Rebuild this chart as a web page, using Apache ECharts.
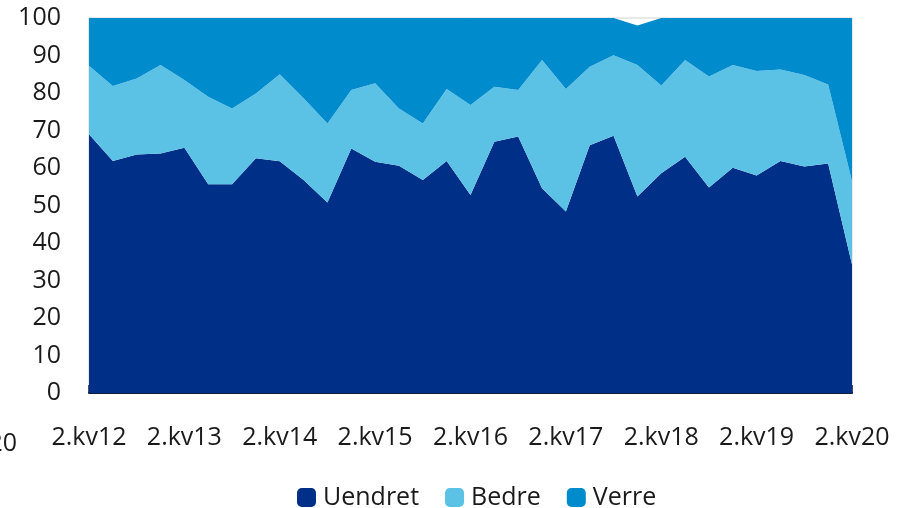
<!DOCTYPE html>
<html>
<head>
<meta charset="utf-8">
<script src="https://cdn.jsdelivr.net/npm/echarts@6/dist/echarts.min.js"></script>
<style>html,body{margin:0;padding:0;background:#fff}#c{width:899px;height:508px}</style>
</head>
<body>
<div id="c"></div>
<script>
// Quarterly categories 2.kv12 ... 2.kv20
const categories = ["2.kv12","3.kv12","4.kv12","1.kv13","2.kv13","3.kv13","4.kv13","1.kv14","2.kv14","3.kv14","4.kv14","1.kv15","2.kv15","3.kv15","4.kv15","1.kv16","2.kv16","3.kv16","4.kv16","1.kv17","2.kv17","3.kv17","4.kv17","1.kv18","2.kv18","3.kv18","4.kv18","1.kv19","2.kv19","3.kv19","4.kv19","1.kv20","2.kv20"];
const uendret = [69.0,61.9,63.6,63.9,65.4,55.7,55.7,62.6,61.8,56.8,50.8,65.2,61.7,60.6,56.8,61.9,52.8,67.0,68.4,54.6,48.4,66.1,68.6,52.4,58.6,63.0,54.8,60.1,58.0,61.9,60.4,61.2,34.3];
const bedre   = [18.3,20.0,20.3,23.6,18.1,23.3,20.2,17.3,23.2,21.8,21.1,15.6,20.9,15.3,15.1,19.2,24.0,14.7,12.4,34.2,32.7,20.9,21.5,35.1,23.4,25.8,29.6,27.4,27.9,24.4,24.4,21.1,22.2];
const verre   = [12.7,18.1,16.1,12.5,16.5,21.0,24.1,20.1,15.0,21.4,28.1,19.2,17.4,24.1,28.1,18.9,23.2,18.3,19.2,11.2,18.9,13.0,9.9,10.5,18.0,11.2,15.6,12.5,14.1,13.7,15.2,17.7,43.5];
const yTicks = {min:0, max:100, interval:10};

const FONT = "'Open Sans', 'Noto Sans', sans-serif";
const TXT = '#1a1a1a';
const chart = echarts.init(document.getElementById('c'), null, {renderer:'canvas'});
function areaSeries(name, data, color){
  return {name, type:'line', stack:'total', data, symbol:'none', showSymbol:false,
    lineStyle:{width:0}, areaStyle:{color, opacity:1}, itemStyle:{color}, emphasis:{disabled:true}};
}
chart.setOption({
  animation:false,
  grid:{left:89, right:47, top:18, bottom:115, show:true, borderColor:'#d4d4d4', borderWidth:1, backgroundColor:'transparent'},
  legend:{top:480, left:292, itemWidth:19, itemHeight:19, itemGap:26,
    textStyle:{fontFamily:FONT, fontSize:25, color:TXT, padding:[0,0,0,2]},
    icon:'roundRect',
    data:['Uendret','Bedre','Verre']},
  xAxis:{type:'category', data:categories, boundaryGap:false,
    axisLine:{show:true, lineStyle:{color:'#0d1b3a', width:2}},
    axisTick:{show:true, inside:true, length:8, interval:0, lineStyle:{color:'#0d1b3a', width:1.5}},
    axisLabel:{interval:3, fontFamily:FONT, fontSize:25, color:TXT, margin:32},
    splitLine:{show:false}},
  yAxis:{type:'value', min:yTicks.min, max:yTicks.max, interval:yTicks.interval,
    axisLine:{show:false}, axisTick:{show:false}, splitLine:{show:false},
    axisLabel:{fontFamily:FONT, fontSize:25, color:TXT, margin:28}},
  graphic:[{type:'text', left:-58, top:431, style:{text:'2.kv20', font:"25px 'Open Sans', sans-serif", fill:TXT}}],
  series:[
    areaSeries('Uendret', uendret, '#002F87'),
    areaSeries('Bedre', bedre, '#5BC2E6'),
    areaSeries('Verre', verre, '#008BCC')
  ]
});
</script>
</body>
</html>
